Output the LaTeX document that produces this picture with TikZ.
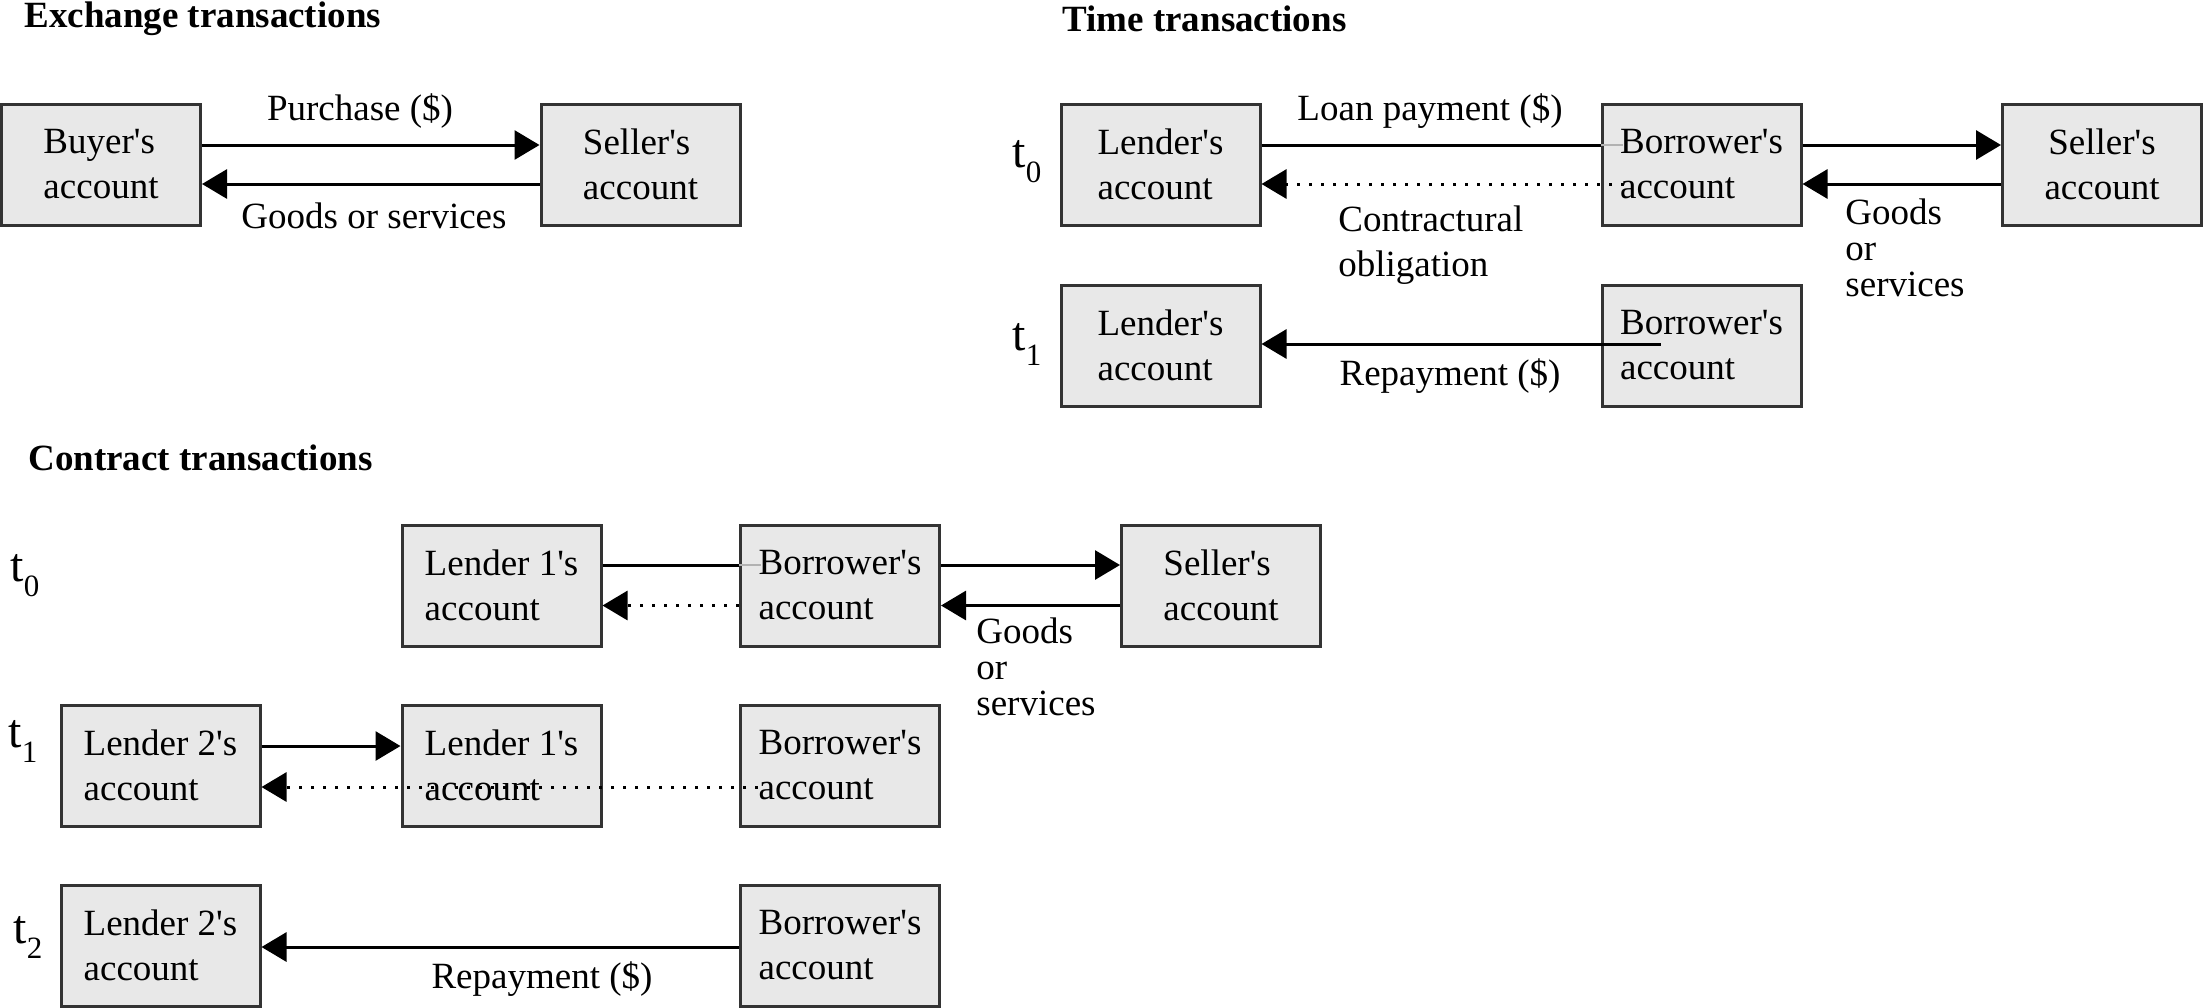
\documentclass[tikz,border=0pt]{standalone}
\usepackage{fontspec}
\setmainfont{Liberation Serif}
\usetikzlibrary{arrows.meta,calc}
\newcommand\tlab[1]{{\fontsize{24}{24}\selectfont t}\raisebox{-7.5pt}{\fontsize{15.5}{15.5}\selectfont #1}}
\newcommand\ap{\textquotesingle}
\begin{document}
\begin{tikzpicture}[x=0.5pt,y=-0.5pt,
  acct/.style={draw=black!80, line width=1.5pt, fill=black!9, minimum width=99.5pt, minimum height=60.5pt, inner sep=0pt, align=left, font=\fontsize{18.5}{22.5}\selectfont},
  lbl/.style={inner sep=0pt, align=left, font=\fontsize{18.5}{22.5}\selectfont},
  stack/.style={inner sep=0pt, align=left, font=\fontsize{18.5}{18}\selectfont},
  ttl/.style={inner sep=0pt, anchor=west, font=\bfseries\fontsize{18.5}{22.5}\selectfont},
  tl/.style={inner sep=0pt},
  arr/.style={line width=1.5pt, -{Triangle[length=12.5pt,width=14.5pt]}},
  plain/.style={line width=1.5pt},
  faint/.style={line width=1.2pt, draw=black!30},
  dots/.style={line width=1.5pt, dash pattern=on 1.5pt off 4.5pt, -{Triangle[length=12.5pt,width=14.5pt]}},
]
\useasboundingbox (0,0) rectangle (2203,1007);

% titles
\node[ttl] (tex) at (24,19) {Exchange transactions};
\node[ttl] (ttime) at (1062,19) {Time transactions};
\node[ttl] (tcon) at (28,458) {Contract transactions};

% ---------- Exchange ----------
\node[acct] (buyer) at (101,164.5) {Buyer\ap s\\account};
\node[acct] (seller) at (640.5,164.5) {Seller\ap s\\account};
\draw[arr] (buyer.east |- 0,145) -- (seller.west |- 0,145);
\draw[arr] (seller.west |- 0,184) -- (buyer.east |- 0,184);
\node[lbl] (purchase) at (360,111) {Purchase (\$)};
\node[lbl] (goods1) at (374,216) {Goods or services};

% ---------- Time ----------
\node[tl] (tt0) at (1027,162) {\tlab{0}};
\node[acct] (len0) at (1160.5,164.5) {Lender\ap s\\account};
\node[acct] (bor0) at (1701.5,164.5) {Borrower\ap s\\account};
\node[acct, align=center] (sel0) at (2102,164.5) {Seller\ap s\\account};
\draw[plain] (len0.east |- 0,145) -- (bor0.west |- 0,145);
\draw[faint] (bor0.west |- 0,145) -- ($(bor0.west |- 0,145)+(22,0)$);
\draw[dots] ($(bor0.west |- 0,184)+(23,0)$) -- (len0.east |- 0,184);
\draw[arr] (bor0.east |- 0,145) -- (sel0.west |- 0,145);
\draw[arr] (sel0.west |- 0,184) -- (bor0.east |- 0,184);
\node[lbl] (loan) at (1430,111) {Loan payment (\$)};
\node[lbl, anchor=west] (oblig) at (1338,245.5) {Contractural\\obligation};
\node[stack, anchor=west] (goods2) at (1845,248) {Goods\\or\\services};

\node[tl] (tt1) at (1027,344) {\tlab{1}};
\node[acct] (len1) at (1160.5,345.5) {Lender\ap s\\account};
\node[acct] (bor1) at (1701.5,345.5) {Borrower\ap s\\account};
\draw[arr] ($(bor1.west |- 0,344)+(60,0)$) -- (len1.east |- 0,344);
\node[lbl] (repay1) at (1450,376) {Repayment (\$)};

% ---------- Contract ----------
\node[tl] (ct0) at (25,576) {\tlab{0}};
\node[acct] (cl1) at (501.5,585.5) {Lender 1\ap s\\account};
\node[acct] (cb0) at (840,585.5) {Borrower\ap s\\account};
\node[acct] (cs0) at (1221,585.5) {Seller\ap s\\account};
\draw[plain] (cl1.east |- 0,565) -- (cb0.west |- 0,565);
\draw[faint] (cb0.west |- 0,565) -- ($(cb0.west |- 0,565)+(22,0)$);
\draw[arr] (cb0.east |- 0,565) -- (cs0.west |- 0,565);
\draw[dots] (cb0.west |- 0,605.5) -- (cl1.east |- 0,605.5);
\draw[arr] (cs0.west |- 0,605.5) -- (cb0.east |- 0,605.5);
\node[stack, anchor=west] (goods3) at (976,666.5) {Goods\\or\\services};

\node[tl] (ct1) at (23,741) {\tlab{1}};
\node[acct] (c2l1) at (160.5,765.5) {Lender 2\ap s\\account};
\node[acct] (c1l1) at (501.5,765.5) {Lender 1\ap s\\account};
\node[acct] (cb1) at (840,765.5) {Borrower\ap s\\account};
\draw[arr] (c2l1.east |- 0,746) -- (c1l1.west |- 0,746);
\draw[dots] ($(cb1.west |- 0,787)+(19,0)$) -- (c2l1.east |- 0,787);

\node[tl] (ct2) at (28,937) {\tlab{2}};
\node[acct] (c2l2) at (160.5,945.5) {Lender 2\ap s\\account};
\node[acct] (cb2) at (840,945.5) {Borrower\ap s\\account};
\draw[arr] (cb2.west |- 0,947) -- (c2l2.east |- 0,947);
\node[lbl] (repay2) at (542,979) {Repayment (\$)};
\end{tikzpicture}
\end{document}
